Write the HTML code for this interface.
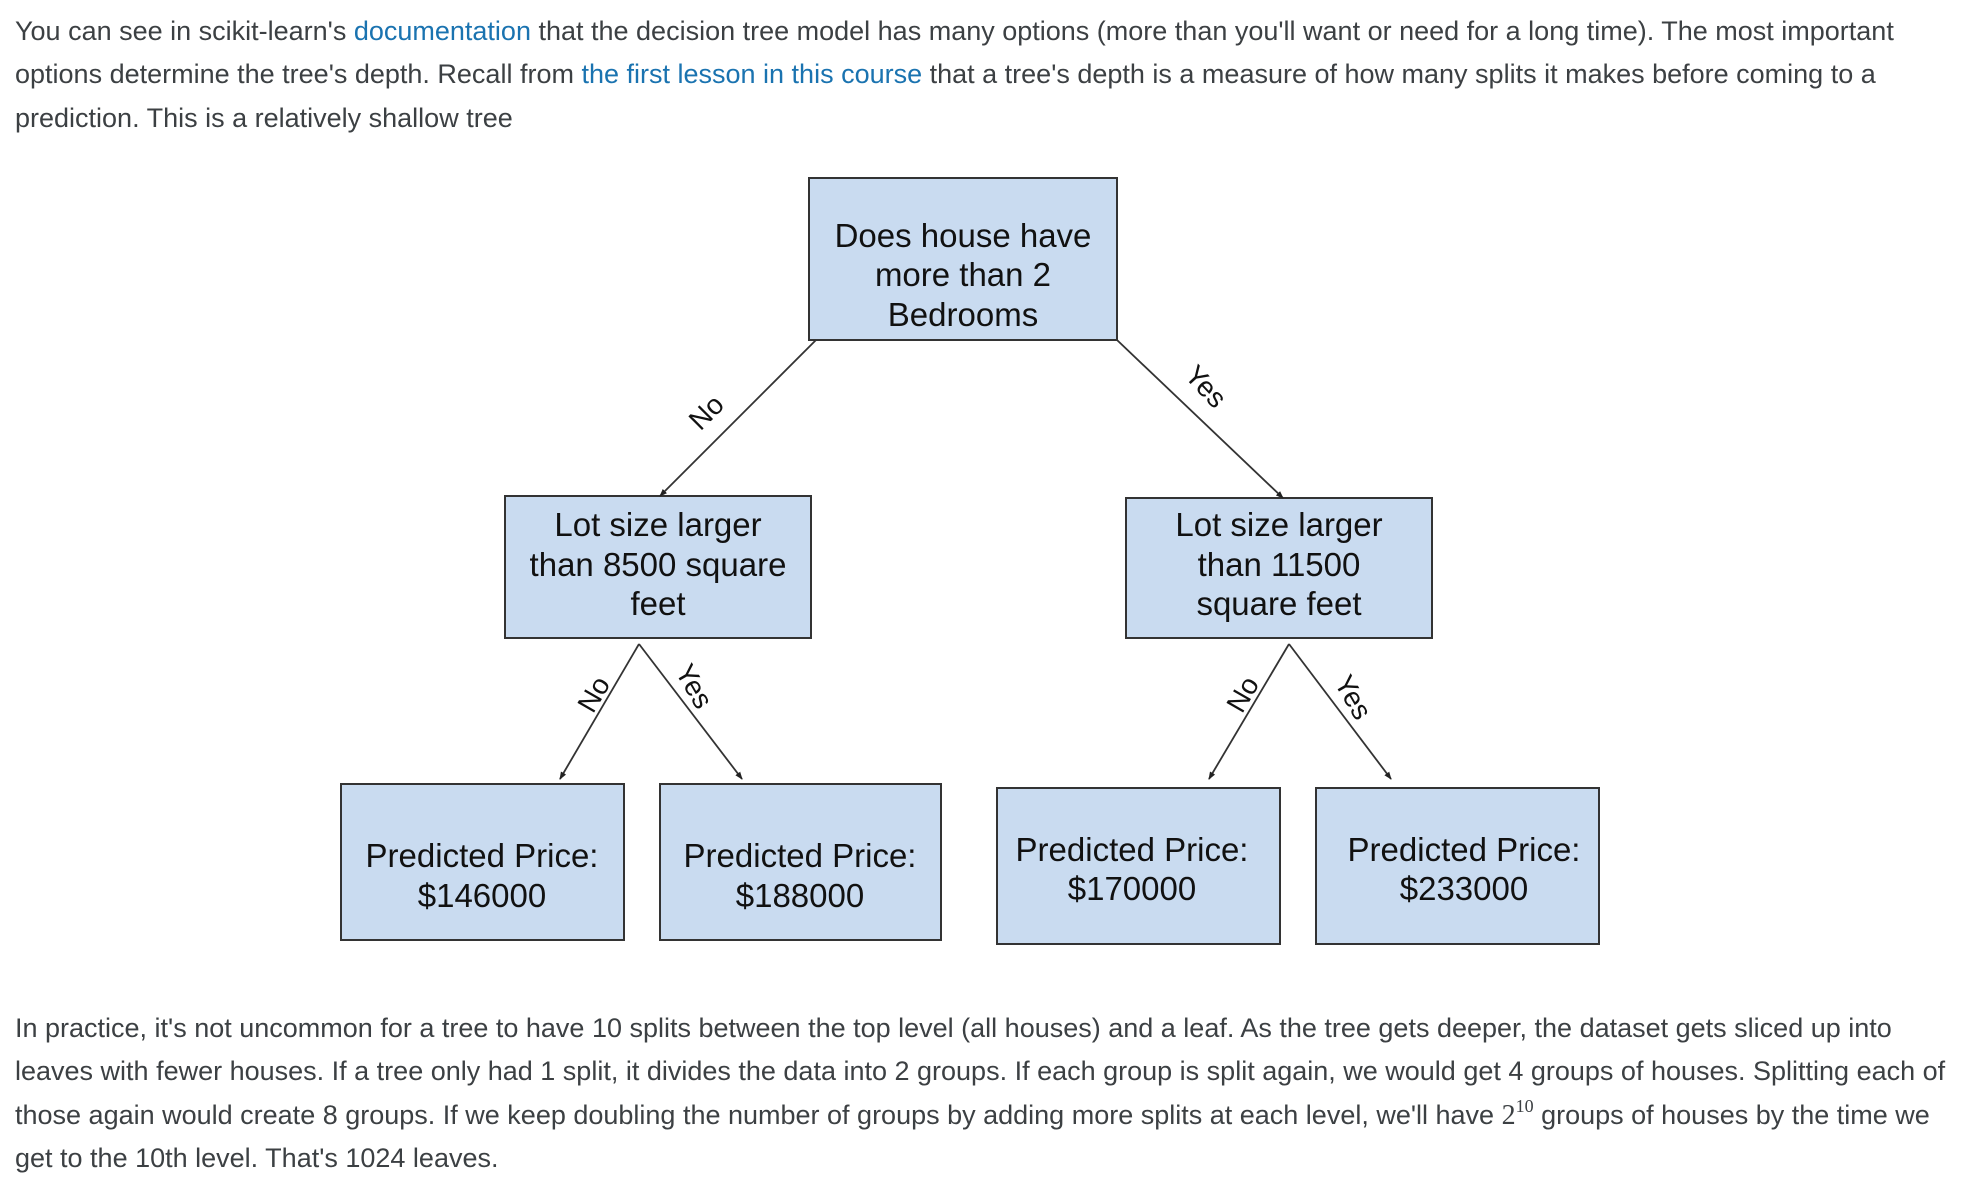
<!DOCTYPE html>
<html><head><meta charset="utf-8"><style>
html,body{margin:0;padding:0;background:#fff;width:1972px;height:1196px;overflow:hidden;position:relative}
.p{position:absolute;left:15px;font-family:"Liberation Sans",sans-serif;font-size:27px;color:#3c4043;line-height:43.4px;white-space:nowrap}
a{color:#1a73b0;text-decoration:none}
svg{position:absolute;left:0;top:0}
.m{font-family:'Liberation Serif',serif;font-size:28px;line-height:0}
.m sup{font-size:18px;line-height:0;vertical-align:0;position:relative;top:-12px}
</style></head><body>
<div class="p" style="top:10px">You can see in scikit-learn's <a>documentation</a> that the decision tree model has many options (more than you'll want or need for a long time). The most important<br>options determine the tree's depth. Recall from <a>the first lesson in this course</a> that a tree's depth is a measure of how many splits it makes before coming to a<br>prediction. This is a relatively shallow tree</div>
<svg width="1972" height="1196" font-family="Liberation Sans, Arial, sans-serif" fill="#111">
<defs><marker id="ar" markerWidth="8" markerHeight="8" refX="7" refY="4" orient="auto" markerUnits="userSpaceOnUse"><path d="M0,1 L8,4 L0,7z" fill="#222"/></marker></defs>
<g transform="translate(-4,-3)">
<g fill="#c9dbf0" stroke="#333" stroke-width="2">
<rect x="813" y="181" width="308" height="162"/>
<rect x="509" y="499" width="306" height="142"/>
<rect x="1130" y="501" width="306" height="140"/>
<rect x="345" y="787" width="283" height="156"/>
<rect x="664" y="787" width="281" height="156"/>
<rect x="1001" y="791" width="283" height="156"/>
<rect x="1320" y="791" width="283" height="156"/>
</g>
<g stroke="#333" stroke-width="1.8" fill="none" marker-end="url(#ar)">
<line x1="820" y1="343" x2="664" y2="499"/>
<line x1="1121" y1="343" x2="1287" y2="501"/>
<line x1="643" y1="647" x2="564" y2="782"/>
<line x1="643" y1="647" x2="746" y2="782"/>
<line x1="1293" y1="647" x2="1213" y2="782"/>
<line x1="1293" y1="647" x2="1395" y2="782"/>
</g>
<g font-size="33" text-anchor="middle">
<text x="967" y="250">Does house have</text><text x="967" y="289">more than 2</text><text x="967" y="329">Bedrooms</text>
<text x="662" y="539">Lot size larger</text><text x="662" y="579">than 8500 square</text><text x="662" y="618">feet</text>
<text x="1283" y="539">Lot size larger</text><text x="1283" y="579">than 11500</text><text x="1283" y="618">square feet</text>
<text x="486" y="870">Predicted Price:</text><text x="486" y="910">$146000</text>
<text x="804" y="870">Predicted Price:</text><text x="804" y="910">$188000</text>
<text x="1136" y="864">Predicted Price:</text><text x="1136" y="903">$170000</text>
<text x="1468" y="864">Predicted Price:</text><text x="1468" y="903">$233000</text>
</g>
<g font-size="28" text-anchor="middle">
<text transform="translate(717,422) rotate(-45)">No</text>
<text transform="translate(1203,396) rotate(47)">Yes</text>
<text transform="translate(606,702) rotate(-60)">No</text>
<text transform="translate(690,694) rotate(60)">Yes</text>
<text transform="translate(1255,702) rotate(-60)">No</text>
<text transform="translate(1349,705) rotate(60)">Yes</text>
</g>
</g>
</svg>
<div class="p" style="top:1007px">In practice, it's not uncommon for a tree to have 10 splits between the top level (all houses) and a leaf. As the tree gets deeper, the dataset gets sliced up into<br>leaves with fewer houses. If a tree only had 1 split, it divides the data into 2 groups. If each group is split again, we would get 4 groups of houses. Splitting each of<br>those again would create 8 groups. If we keep doubling the number of groups by adding more splits at each level, we'll have <span class="m">2<sup>10</sup></span> groups of houses by the time we<br>get to the 10th level. That's 1024 leaves.</div>
</body></html>
